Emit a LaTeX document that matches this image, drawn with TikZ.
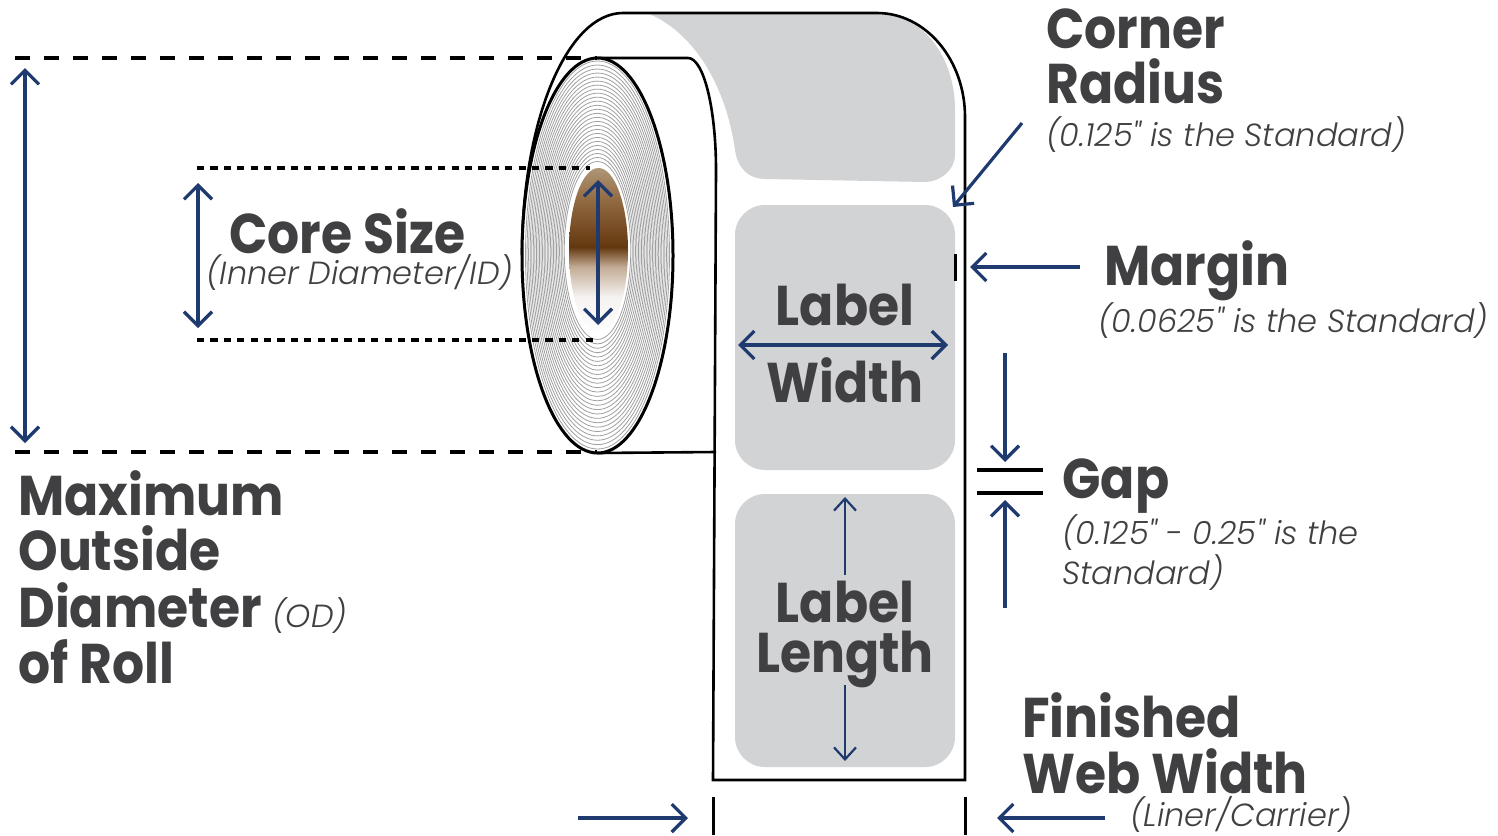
\documentclass[tikz,border=0pt]{standalone}
\usepackage{fontspec}
\setmainfont{Poppins}[BoldFeatures={FakeStretch=0.9}]
\newfontfamily\notefont{Poppins Light Italic}
\usetikzlibrary{arrows.meta}

\definecolor{inkgray}{RGB}{64,64,66}
\definecolor{dimblue}{RGB}{31,58,111}
\definecolor{labelgray}{RGB}{209,211,212}
\definecolor{ringgray}{RGB}{160,160,160}
\definecolor{coretop}{RGB}{175,150,118}
\definecolor{coreupper}{RGB}{145,105,65}
\definecolor{coremid}{RGB}{100,56,15}
\definecolor{corefade}{RGB}{195,172,150}
\definecolor{corepale}{RGB}{245,242,240}
\pgfdeclareverticalshading{coreshade}{100bp}{color(0bp)=(white); color(25bp)=(white);
    color(36bp)=(corepale); color(45bp)=(corefade); color(51bp)=(coremid);
    color(65bp)=(coreupper); color(75bp)=(coretop); color(100bp)=(coretop)}

\begin{document}
\begin{tikzpicture}[x=0.5pt, y=-0.5pt,
    title/.style={font=\fontsize{28}{28}\selectfont\bfseries, text=inkgray, inner sep=0pt},
    note/.style={font=\fontsize{16}{16}\notefont, text=inkgray, inner sep=0pt},
    dim/.style={draw=dimblue, line width=1.6pt, >={Straight Barb[length=7pt, width=14pt]}},
    thindim/.style={draw=dimblue, line width=1.1pt, >={Straight Barb[length=6pt, width=11pt]}},
    tick/.style={draw=black, line width=1.5pt},
    outline/.style={draw=black, line width=1.3pt},
    ring/.style={draw=ringgray, line width=0.4pt},
    longdash/.style={draw=black, line width=1.6pt, dash pattern=on 7.5pt off 7pt},
    shortdash/.style={draw=black, line width=1.7pt, dash pattern=on 3.6pt off 3.1pt},
    labelbox/.style={fill=labelgray, rounded corners=15pt}]

    \useasboundingbox (0,0) rectangle (1498,835);

    % Declare the labels on the web
    \fill[labelgray] (647,13) -- (877,13) .. controls (921,13) and (955,55) .. (955,110)
        -- (955,155) .. controls (955,170) and (940,182) .. (925,182) -- (765,179)
        .. controls (750,179) and (738,170) .. (735,150)
        .. controls (725,80) and (690,30) .. (647,13) -- cycle;
    \fill[labelbox] (735,205) rectangle (955,470);
    \fill[labelbox] (735,494) rectangle (955,767);

    % Declare the web and the roll outline
    \draw[outline] (522,255) .. controls (522,121) and (567,13) .. (623,13) -- (877,13)
        .. controls (926,13) and (965,60) .. (965,117) -- (965,780) -- (713,780) -- (716,170)
        .. controls (716,108) and (703.5,58) .. (688,58) -- (597.5,58);
    \draw[outline] (597.5,453) -- (716,452);

    % Declare the side of the roll
    \draw[outline, line width=1.5pt, fill=white] (597.5,255.5) ellipse [x radius=75.5, y radius=197.5];
    \foreach \i in {0,...,25}
        \draw[ring] (597.5,{255-\i*0.18}) ellipse [x radius={72-\i*1.55}, y radius={194-\i*4.2}];
    \shade[shading=coreshade] (598.5,250.5) ellipse [x radius=29.5, y radius=82.5];

    % Declare guide lines
    \coordinate (odtopline) at (15,58);
    \coordinate (odbotline) at (15,452);
    \coordinate (idtopline) at (197,168);
    \coordinate (idbotline) at (197,340);
    \draw[longdash] (odtopline) -- (597,58);
    \draw[longdash] (odbotline) -- (597,452);
    \draw[shortdash] (idtopline) -- (590,168);
    \draw[shortdash] (idbotline) -- (598,340);

    % Declare the texts
    \node[title, anchor=base west] at (1046,48) (corner) {Corner};
    \node[title, anchor=base west] at (1046,103) (radius) {Radius};
    \node[note, anchor=base west] at (1046,146) (cornernote) {(0.125" is the Standard)};
    \node[title, anchor=base west] at (1104,285) (margin) {Margin};
    \node[note, anchor=base west] at (1098,332) (marginnote) {(0.0625" is the Standard)};
    \node[title, anchor=base west] at (1062,498) (gap) {Gap};
    \node[note, anchor=base west] at (1062,544) (gapnote) {(0.125" - 0.25" is the};
    \node[note, anchor=base west] at (1062,584) (gapnoteb) {Standard)};
    \node[title, anchor=base west] at (1022,737) (finished) {Finished};
    \node[title, anchor=base west] at (1022,793) (webwidth) {Web Width};
    \node[note, anchor=base west] at (1130,826) (liner) {(Liner/Carrier)};
    \node[title, anchor=base west] at (229,253) (coresize) {Core Size};
    \node[note, anchor=base west] at (206,284) (coreid) {(Inner Diameter/ID)};
    \node[title, anchor=base] at (845,325) (wlabel) {Label};
    \node[title, anchor=base] at (845,402) (width) {Width};
    \node[title, anchor=base] at (845,622) (llabel) {Label};
    \node[title, anchor=base] at (845,672) (length) {Length};
    \node[title, anchor=base west] at (18,515) (maximum) {Maximum};
    \node[title, anchor=base west] at (18,570) (outside) {Outside};
    \node[title, anchor=base west] at (18,627) (diameter) {Diameter};
    \node[note, anchor=base west] at (272,627) (od) {(OD)};
    \node[title, anchor=base west] at (18,683) (ofroll) {of Roll};

    % Declare dimension arrows
    \coordinate (odtop) at (25,68);
    \coordinate (odbot) at (25,443);
    \coordinate (idtop) at (198,183);
    \coordinate (idbot) at (198,328);
    \coordinate (coretop) at (598,180);
    \coordinate (corebot) at (598,325);
    \coordinate (lwleft) at (738,345);
    \coordinate (lwright) at (948,345);
    \coordinate (lltop) at (845,497);
    \coordinate (lltopend) at (845,575);
    \coordinate (llbotend) at (845,685);
    \coordinate (llbot) at (845,761);
    \draw[dim, <->] (odtop) -- (odbot);
    \draw[dim, <->] (idtop) -- (idbot);
    \draw[dim, <->] (coretop) -- (corebot);
    \draw[dim, <->] (lwleft) -- (lwright);
    \draw[thindim, ->] (lltopend) -- (lltop);
    \draw[thindim, ->] (llbotend) -- (llbot);

    % Declare pointer arrows
    \coordinate (cornerfrom) at (1022,123);
    \coordinate (cornerto) at (953,207);
    \coordinate (marginfrom) at (1080,267);
    \coordinate (marginto) at (970,267);
    \coordinate (gapfrom) at (1005,353);
    \coordinate (gapto) at (1005,462);
    \coordinate (gapfromb) at (1005,608);
    \coordinate (gaptob) at (1005,500);
    \coordinate (webfrom) at (578,818);
    \coordinate (webto) at (688,818);
    \coordinate (webfromb) at (1105,818);
    \coordinate (webtob) at (997,818);
    \draw[dim, ->] (cornerfrom) -- (cornerto);
    \draw[dim, ->] (marginfrom) -- (marginto);
    \draw[dim, ->] (gapfrom) -- (gapto);
    \draw[dim, ->] (gapfromb) -- (gaptob);
    \draw[dim, ->] (webfrom) -- (webto);
    \draw[dim, ->] (webfromb) -- (webtob);

    % Declare ticks
    \draw[tick] (955,254) -- (955,281);
    \draw[tick, line width=2pt] (977,470) -- (1043,470);
    \draw[tick, line width=2pt] (977,493) -- (1043,493);
    \draw[tick] (713,797) -- (713,835);
    \draw[tick] (965,797) -- (965,835);

\end{tikzpicture}
\end{document}
